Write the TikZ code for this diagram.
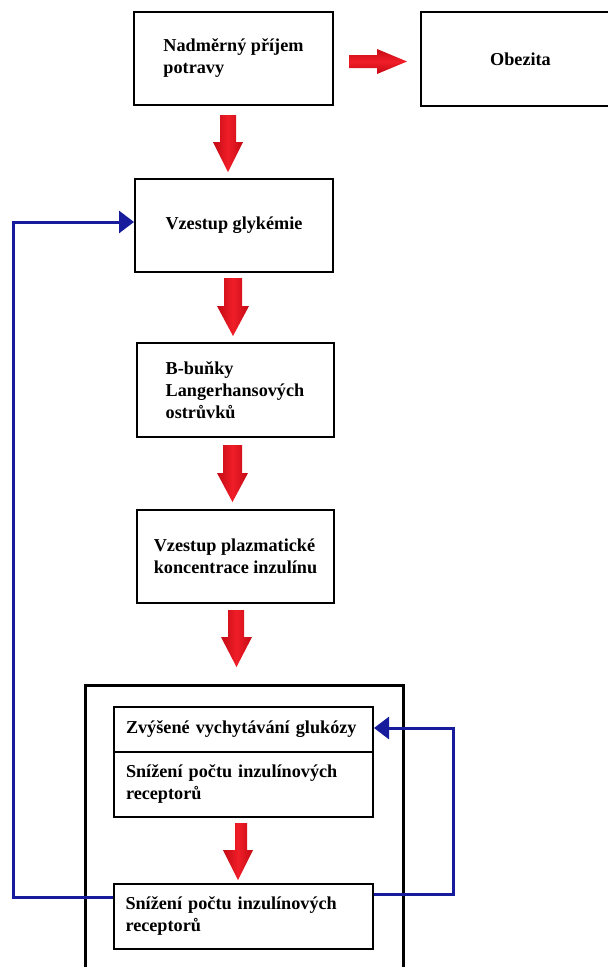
\documentclass[tikz,border=0pt]{standalone}
\usepackage{fontspec}
\setmainfont{Liberation Serif}
\usetikzlibrary{arrows.meta}
\definecolor{navy}{RGB}{22,28,155}
\definecolor{rbright}{RGB}{240,30,40}
\definecolor{rdark}{RGB}{195,10,20}
% down arrow: shaft left, shaft right, top, head left, head right, head y, tip y
\newcommand\rdarrow[7]{%
  \shade[left color=rdark,right color=rdark,middle color=rbright]
    (#1,#3) -- (#2,#3) -- (#2,#6) -- (#5,#6) -- ({(#4+#5)/2},#7) -- (#4,#6) -- (#1,#6) -- cycle;}
% right arrow: shaft start x, head x, tip x, shaft top, shaft bottom, head top, head bottom
\newcommand\rrarrow[7]{%
  \shade[top color=rdark,bottom color=rdark,middle color=rbright]
    (#1,#4) -- (#2,#4) -- (#2,#6) -- (#3,{(#6+#7)/2}) -- (#2,#7) -- (#2,#5) -- (#1,#5) -- cycle;}
\tikzset{
  box/.style={draw=black,line width=2pt,fill=white,inner sep=0pt,
    font=\fontsize{18.2}{22}\selectfont\bfseries,align=left},
  bigbox/.style={draw=black,line width=3pt,inner sep=0pt},
  inbox/.style={box,text width=235pt,inner xsep=12pt},
  feedback/.style={draw=navy,line width=3pt,-{Triangle[length=15pt,width=22pt]}},
}
\begin{document}
\begin{tikzpicture}[x=1pt,y=-1pt]
\clip (0,0) rectangle (608,967);
\fill[white] (0,0) rectangle (608,967);
% big container
\node[bigbox,minimum width=318pt,minimum height=320pt] (big) at (244,845) {};
% boxes
\node[box,minimum width=199pt,minimum height=93pt] (b1) at (233.5,58.5) {Nadměrný příjem\\potravy};
\node[box,minimum width=199pt,minimum height=94pt,align=center] (ob) at (520.5,59) {Obezita};
\node[box,minimum width=198pt,minimum height=93pt] (b2) at (234,225.5) {Vzestup glykémie};
\node[box,minimum width=197pt,minimum height=94pt] (b3) at (235,390) {B-buňky\\Langerhansových\\ostrůvků};
\node[box,minimum width=197pt,minimum height=93pt] (b4) at (235.5,556) {Vzestup plazmatické\\koncentrace inzulínu};
\node[inbox,minimum height=45pt] (i1) at (243.5,729.5) {Zvýšené vychytávání glukózy};
\node[inbox,minimum height=65pt] (i2) at (243.5,784.5) {Snížení počtu inzulínových\\receptorů\\[4pt]};
\node[inbox,minimum height=65pt] (i3) at (243,916.5) {Snížení počtu inzulínových\\receptorů};
% red block arrows
\rrarrow{349}{377}{407}{55}{68}{49}{74}
\rdarrow{220}{236}{115}{213}{243}{142}{172}
\rdarrow{224}{242}{278}{217}{249}{306}{336}
\rdarrow{223}{242}{445}{217}{248}{473}{502}
\rdarrow{228}{244}{610}{221}{252}{637}{667}
\rdarrow{235}{247}{823}{223}{253}{850}{880}
% feedback loops
\coordinate (lx) at (13,897);
\coordinate (ly) at (13,222);
\coordinate (rx) at (453,894);
\coordinate (ry) at (453,728);
\draw[feedback] (i3.west |- lx) -- (lx) -- (ly) -- (b2.west |- ly);
\draw[feedback] (i3.east |- rx) -- (rx) -- (ry) -- (i1.east |- ry);
\end{tikzpicture}
\end{document}
